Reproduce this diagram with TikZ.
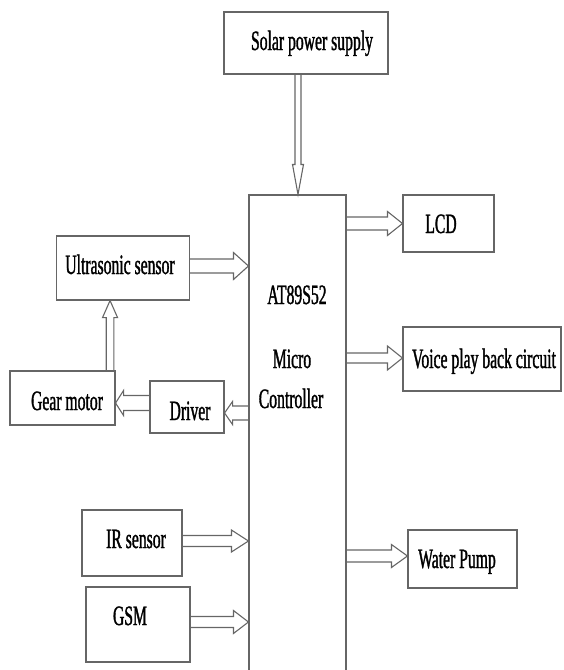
\documentclass[tikz,border=0pt]{standalone}
\usepackage{fontspec}
\setmainfont[FakeStretch=0.56,FakeBold=1.2]{Liberation Serif}
\usetikzlibrary{calc}
\tikzset{
  box/.style={draw=black!60, line width=1.1pt, inner sep=0pt, rectangle},
  txt/.style={inner sep=0pt, anchor=base, font=\fontsize{28}{32}\selectfont, text=black},
  conn/.style={draw=black!60, line width=1.1pt, line join=miter},
}
\newcommand{\blockarrow}[5]{%
  \coordinate (bap) at ($(#2)!#5!(#1)$);
  \draw[conn] ($(#1)!#3!90:(#2)$) -- ($(bap)!#3!-90:(#1)$) -- ($(bap)!#4!-90:(#1)$) -- (#2) -- ($(bap)!#4!90:(#1)$) -- ($(bap)!#3!90:(#1)$) -- ($(#1)!#3!-90:(#2)$);
}
\begin{document}
\begin{tikzpicture}[x=1pt,y=-1pt]
\useasboundingbox (0,0) rectangle (564,670);
\clip (0,0) rectangle (564,670);
% boxes
\node[box, minimum width=164pt, minimum height=62pt] (sol) at (306,43) {};
\node[box, minimum width=97pt, minimum height=485pt] (mc) at (297.5,437.5) {};
\node[box, minimum width=91pt, minimum height=57pt] (lcd) at (448.5,223.5) {};
\node[box, minimum width=158pt, minimum height=64pt] (voice) at (482,359) {};
\node[box, minimum width=109pt, minimum height=58pt] (wp) at (462.5,559) {};
\node[box, minimum width=133pt, minimum height=64pt] (us) at (123,268) {};
\node[box, minimum width=105pt, minimum height=54pt] (gm) at (62.5,398) {};
\node[box, minimum width=74pt, minimum height=52pt] (drv) at (187,407) {};
\node[box, minimum width=100pt, minimum height=66pt] (ir) at (132,543) {};
\node[box, minimum width=104pt, minimum height=75pt] (gsm) at (138,624.5) {};
% texts
\node[txt] (solt) at (312,50) {Solar power supply};
\node[txt] (lcdt) at (441,233) {LCD};
\node[txt] (voicet) at (484,368) {Voice play back circuit};
\node[txt] (wpt) at (457,568) {Water Pump};
\node[txt] (ust) at (120,274) {Ultrasonic sensor};
\node[txt] (gmt) at (67,410) {Gear motor};
\node[txt] (drvt) at (190,420) {Driver};
\node[txt] (irt) at (136,548) {IR sensor};
\node[txt] (gsmt) at (130,625) {GSM};
\node[txt] (mct1) at (297,304) {AT89S52};
\node[txt] (mct2) at (292,368) {Micro};
\node[txt] (mct3) at (291,408) {Controller};
% connector end points
\coordinate (s0) at ($(sol.south)+(-8,0)$);
\coordinate (s1) at (s0 |- mc.north);
\coordinate (l0) at (mc.east |- lcd.west);
\coordinate (v0) at ($(mc.east |- voice.west)+(0,-1)$);
\coordinate (v1) at ($(voice.west)+(0,-1)$);
\coordinate (w0) at ($(mc.east |- wp.west)+(0,-3)$);
\coordinate (w1) at ($(wp.west)+(0,-3)$);
\coordinate (u0) at ($(us.east)+(0,-2)$);
\coordinate (u1) at (mc.west |- u0);
\coordinate (g0) at ($(gm.north east)+(-5.5,0)$);
\coordinate (g1) at (g0 |- us.south);
\coordinate (d0) at ($(drv.west)+(0,-4)$);
\coordinate (d1) at (gm.east |- d0);
\coordinate (m0) at ($(mc.west |- drv.east)+(0,6)$);
\coordinate (m1) at ($(drv.east)+(0,6)$);
\coordinate (i0) at ($(ir.east)+(0,-2)$);
\coordinate (i1) at (mc.west |- i0);
\coordinate (q0) at ($(gsm.east)+(0,-2.5)$);
\coordinate (q1) at (mc.west |- q0);
% connectors
\blockarrow{s0}{s1}{3pt}{5.5pt}{30pt}
\blockarrow{l0}{lcd.west}{6.5pt}{12pt}{15pt}
\blockarrow{v0}{v1}{5pt}{12pt}{15pt}
\blockarrow{w0}{w1}{6pt}{11.5pt}{16pt}
\blockarrow{u0}{u1}{7pt}{13.5pt}{15pt}
\blockarrow{g0}{g1}{3.8pt}{7.5pt}{17pt}
\blockarrow{d0}{d1}{7.5pt}{12.5pt}{8pt}
\blockarrow{m0}{m1}{7pt}{11.5pt}{8pt}
\blockarrow{i0}{i1}{5.5pt}{11pt}{17pt}
\blockarrow{q0}{q1}{5.5pt}{11.5pt}{15pt}
\end{tikzpicture}
\end{document}
